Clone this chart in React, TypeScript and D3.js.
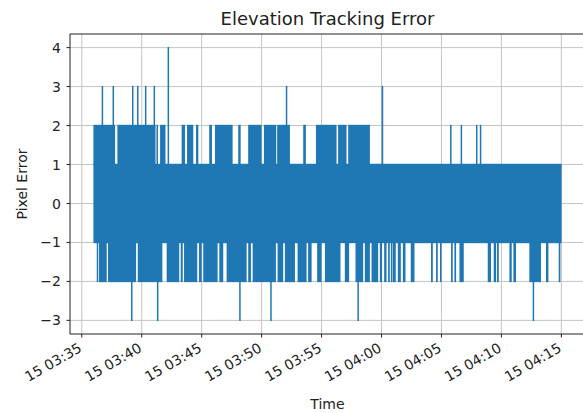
import React, { useEffect, useRef } from "react";
import * as d3 from "d3";

// Times are minutes after 15th 03:35:00
const startClock = new Date(2021, 0, 15, 3, 35, 0);

// core band where the error flips between -1 and +1
const coreSpan = [0.97, 40.02];
const coreLevels = [-1, 1];

// stretches where the error reaches +2
const upperStart = [0.97, 2.97, 6.23, 6.53, 8.33, 8.78, 9.53, 10.63, 11.11, 13.05, 13.88, 15.19, 16.3, 18.47, 19.53, 21.38, 22.22, 30.72, 31.6, 32.88, 33.2];
const upperEnd = [2.78, 6.15, 6.36, 6.98, 8.61, 9.3, 9.72, 10.86, 12.58, 13.25, 15.0, 16.22, 17.36, 18.69, 21.25, 22.08, 24.03, 30.78, 31.66, 32.94, 33.26];

// stretches where the error reaches -2
const lowerStart = [1.25, 1.44, 2.19, 4.67, 7.08, 8.25, 8.53, 9.78, 10.13, 11.47, 12.08, 13.88, 14.25, 16.33, 16.94, 18.0, 18.88, 19.63, 20.28, 21.94, 22.83, 23.61, 24.17, 24.86, 25.22, 25.55, 25.78, 25.94, 26.36, 26.78, 27.44, 29.13, 29.55, 29.88, 30.8, 31.08, 31.5, 33.86, 34.36, 34.63, 35.67, 36.0, 37.33, 38.72, 39.78];
const lowerEnd = [1.33, 2.08, 4.53, 6.72, 8.13, 8.42, 9.63, 10.0, 11.33, 11.8, 13.75, 14.11, 16.19, 16.8, 17.78, 18.75, 19.17, 20.0, 21.58, 22.3, 23.47, 24.03, 24.72, 25.05, 25.42, 25.69, 25.86, 26.19, 26.61, 27.0, 27.75, 29.28, 29.69, 29.97, 30.94, 31.22, 31.86, 34.13, 34.55, 34.78, 35.86, 36.22, 38.3, 38.92, 39.92];

// single samples beyond +-2
const spikeTimes = [1.72, 2.63, 4.25, 4.67, 5.33, 6.05, 7.22, 17.08, 25.08, 4.17, 6.33, 13.19, 15.78, 23.05, 37.67];
const spikeValues = [3, 3, 3, 3, 3, 3, 4, 3, 3, -3, -3, -3, -3, -3, -3];

const yTicks = [-3, -2, -1, 0, 1, 2, 3, 4];

const toDate = (m: number) => new Date(startClock.getTime() + m * 60000);

function App() {
  const ref = useRef<SVGSVGElement | null>(null);

  useEffect(() => {
    const width = 583,
      height = 413;
    const margin = { top: 34, left: 70, bottom: 79, right: -2 };
    const innerWidth = width - margin.left - margin.right;
    const innerHeight = height - margin.top - margin.bottom;
    const blue = "#1f77b4";
    const font = "DejaVu Sans, sans-serif";

    const root = d3.select(ref.current);
    root.selectAll("*").remove();
    const svg = root.append("g").attr("transform", `translate(${margin.left},${margin.top})`);

    const span = coreSpan[1] - coreSpan[0];
    const x = d3
      .scaleTime()
      .domain([toDate(coreSpan[0] - 0.05 * span), toDate(coreSpan[1] + 0.05 * span)])
      .range([0, innerWidth]);
    const y = d3.scaleLinear().domain([-3.35, 4.35]).range([innerHeight, 0]);

    const xTicks = x.ticks(d3.timeMinute.every(5));

    // GRID
    svg
      .selectAll(".vgrid")
      .data(xTicks)
      .join("line")
      .attr("x1", (d) => x(d))
      .attr("x2", (d) => x(d))
      .attr("y1", 0)
      .attr("y2", innerHeight)
      .attr("stroke", "#c4c4c4")
      .attr("stroke-width", 1);
    svg
      .selectAll(".hgrid")
      .data(yTicks)
      .join("line")
      .attr("x1", 0)
      .attr("x2", innerWidth)
      .attr("y1", (d) => y(d))
      .attr("y2", (d) => y(d))
      .attr("stroke", "#c4c4c4")
      .attr("stroke-width", 1);

    // CORE BAND
    svg
      .append("rect")
      .attr("x", x(toDate(coreSpan[0])))
      .attr("width", x(toDate(coreSpan[1])) - x(toDate(coreSpan[0])))
      .attr("y", y(coreLevels[1]) - 0.75)
      .attr("height", y(coreLevels[0]) - y(coreLevels[1]) + 1.5)
      .attr("fill", blue);

    // UPPER RUNS
    svg
      .selectAll(".upper")
      .data(upperStart.map((s, i) => [s, upperEnd[i]]))
      .join("rect")
      .attr("x", (d) => x(toDate(d[0])))
      .attr("width", (d) => Math.max(1.5, x(toDate(d[1])) - x(toDate(d[0]))))
      .attr("y", y(2) - 0.75)
      .attr("height", y(1) - y(2) + 1.5)
      .attr("fill", blue);

    // LOWER RUNS
    svg
      .selectAll(".lower")
      .data(lowerStart.map((s, i) => [s, lowerEnd[i]]))
      .join("rect")
      .attr("x", (d) => x(toDate(d[0])))
      .attr("width", (d) => Math.max(1.5, x(toDate(d[1])) - x(toDate(d[0]))))
      .attr("y", y(-1) - 0.75)
      .attr("height", y(-2) - y(-1) + 1.5)
      .attr("fill", blue);

    // SPIKES
    svg
      .selectAll(".spike")
      .data(spikeTimes.map((t, i) => [t, spikeValues[i]]))
      .join("line")
      .attr("x1", (d) => x(toDate(d[0])))
      .attr("x2", (d) => x(toDate(d[0])))
      .attr("y1", y(0))
      .attr("y2", (d) => y(d[1]) + (d[1] > 0 ? -0.75 : 0.75))
      .attr("stroke", blue)
      .attr("stroke-width", 1.5);

    // SPINES
    svg
      .append("path")
      .attr("d", `M${innerWidth},0H0V${innerHeight}H${innerWidth}`)
      .attr("fill", "none")
      .attr("stroke", "#222")
      .attr("stroke-width", 1);

    // X AXIS
    const xg = svg.append("g").attr("transform", `translate(0,${innerHeight})`);
    xg.selectAll("line")
      .data(xTicks)
      .join("line")
      .attr("x1", (d) => x(d))
      .attr("x2", (d) => x(d))
      .attr("y1", 0)
      .attr("y2", 3.5)
      .attr("stroke", "#222");
    const fmt = d3.timeFormat("%d %H:%M");
    xg.selectAll("text")
      .data(xTicks)
      .join("text")
      .attr("transform", (d) => `translate(${x(d) - 4},8) rotate(-30)`)
      .attr("text-anchor", "end")
      .attr("dy", "0.72em")
      .attr("font-family", font)
      .attr("font-size", 14)
      .attr("fill", "#222")
      .text((d) => fmt(d));

    // Y AXIS
    const yg = svg.append("g");
    yg.selectAll("line")
      .data(yTicks)
      .join("line")
      .attr("x1", -3.5)
      .attr("x2", 0)
      .attr("y1", (d) => y(d))
      .attr("y2", (d) => y(d))
      .attr("stroke", "#222");
    yg.selectAll("text")
      .data(yTicks)
      .join("text")
      .attr("x", -9)
      .attr("y", (d) => y(d))
      .attr("dy", "0.36em")
      .attr("text-anchor", "end")
      .attr("font-family", font)
      .attr("font-size", 14)
      .attr("fill", "#222")
      .text((d) => (d < 0 ? "\u2212" + Math.abs(d) : String(d)));

    // LABELS
    root
      .append("text")
      .attr("x", margin.left + innerWidth / 2)
      .attr("y", 25)
      .attr("text-anchor", "middle")
      .attr("font-family", font)
      .attr("font-size", 18)
      .attr("fill", "#222")
      .text("Elevation Tracking Error");
    root
      .append("text")
      .attr("x", margin.left + innerWidth / 2)
      .attr("y", 409)
      .attr("text-anchor", "middle")
      .attr("font-family", font)
      .attr("font-size", 14)
      .attr("fill", "#222")
      .text("Time");
    root
      .append("text")
      .attr("transform", `translate(27,${margin.top + innerHeight / 2}) rotate(-90)`)
      .attr("text-anchor", "middle")
      .attr("font-family", font)
      .attr("font-size", 14)
      .attr("fill", "#222")
      .text("Pixel Error");
  }, []);

  return (
    <div style={{ position: "absolute", left: 0, top: 0 }}>
      <svg ref={ref} width={583} height={413} style={{ display: "block", background: "#fff" }}></svg>
    </div>
  );
}

export default App;
